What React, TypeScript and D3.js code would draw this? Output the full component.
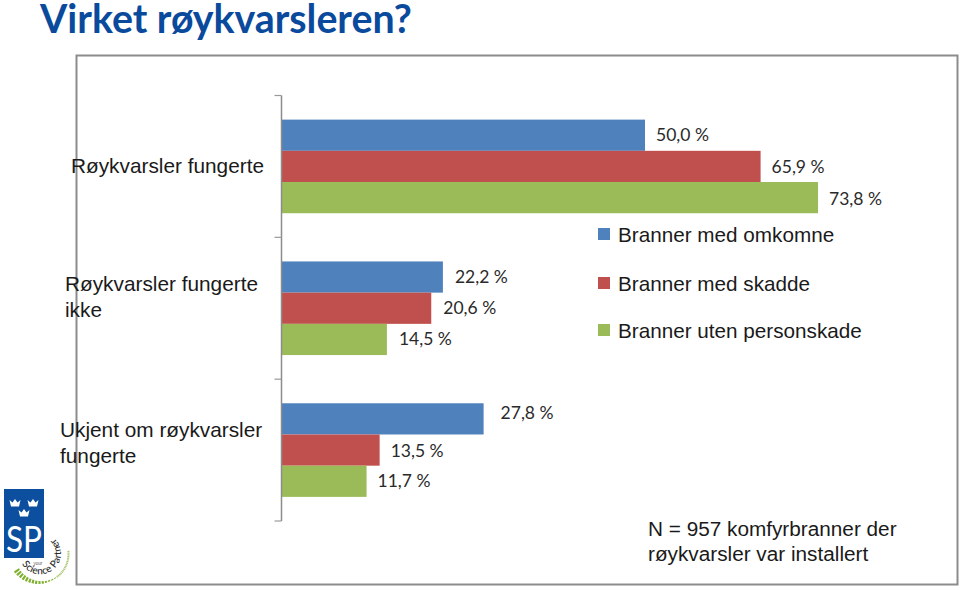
import React from "react";
import * as d3 from "d3";

const categories = ["Røykvarsler fungerte", "Røykvarsler fungerte ikke", "Ukjent om røykvarsler fungerte"];
const seriesNames = ["Branner med omkomne", "Branner med skadde", "Branner uten personskade"];
const omkomne = [50.0, 22.2, 27.8];
const skadde = [65.9, 20.6, 13.5];
const utenSkade = [73.8, 14.5, 11.7];
const seriesValues = [omkomne, skadde, utenSkade];
const colors = ["#4f81bd", "#c0504d", "#9bbb59"];
const categoryLines = [["Røykvarsler fungerte"], ["Røykvarsler fungerte", "ikke"], ["Ukjent om røykvarsler", "fungerte"]];
const noteLines = ["N = 957 komfyrbranner der", "røykvarsler var installert"];

const W = 960, H = 590;
const x = d3.scaleLinear().domain([0, 100]).range([281.5, 1008.5]);
const y0 = d3.scaleBand<number>().domain([0, 1, 2]).range([95.5, 521]).paddingInner(0.34).paddingOuter(0.17);
const y1 = d3.scaleBand<number>().domain([0, 1, 2]).range([0, y0.bandwidth()]);
const axisTicks = d3.range(4).map((i) => 95.5 + (i * (521 - 95.5)) / 3);

const sans = "'Liberation Sans', Arial, sans-serif";
const calibri = "Lato, 'Open Sans', sans-serif";

// label nudges relative to the bar end / bar centre, as in the hand-placed source labels
const labelDx = [[11, 12, 17], [11, 12, 11], [11, 12, 11]];
const labelDy = [[0, 0, -6], [0.5, 0, 0.5], [1, 0, 0]];

const catTextX = [71, 65, 60];
const catTextY = [173, 291, 437];
const legendY = [235, 284, 331];

const greenArc = d3.arc();

function Crown({ cx, cy, s }: { cx: number; cy: number; s: number }) {
  const p = d3.path();
  p.moveTo(cx - 5.5 * s, cy - 4 * s);
  p.lineTo(cx - 2.5 * s, cy - 1.5 * s);
  p.lineTo(cx, cy - 5 * s);
  p.lineTo(cx + 2.5 * s, cy - 1.5 * s);
  p.lineTo(cx + 5.5 * s, cy - 4 * s);
  p.lineTo(cx + 4 * s, cy + 2.5 * s);
  p.lineTo(cx - 4 * s, cy + 2.5 * s);
  p.closePath();
  return <path d={p.toString()} fill="#fff" />;
}

function Logo() {
  const rad = Math.PI / 180;
  const thick = d3.range(0, 14).map((i) => {
    const a0 = (236 - i * 6.6) * rad;
    return greenArc({ innerRadius: 25.5 + i * 0.2, outerRadius: 31.5 - i * 0.2, startAngle: a0 - 0.075, endAngle: a0 } as any) as string;
  });
  const fine = d3.range(0, 18).map((i) => {
    const a0 = (144 - i * 3.4) * rad;
    return greenArc({ innerRadius: 27.5, outerRadius: 29.5, startAngle: a0 - 0.04, endAngle: a0 } as any) as string;
  });
  return (
    <g>
      <rect x={4} y={489} width={40} height={69} fill="#0b4f9e" />
      <Crown cx={15} cy={504} s={1} />
      <Crown cx={33} cy={504} s={1} />
      <Crown cx={24} cy={514} s={1} />
      <text x={24} y={552} textAnchor="middle" fontFamily={calibri} fontSize={37} fill="#fff" textLength={36} lengthAdjust="spacingAndGlyphs">SP</text>
      <g transform="translate(40,554)">
        {thick.map((d, i) => <path key={i} d={d} fill="#7fb02f" />)}
        {fine.map((d, i) => <path key={i} d={d} fill="#a9c770" />)}
      </g>
      <defs>
        <path id="logoArc" d="M 22 564 A 21 21 0 0 0 61 555 A 21 21 0 0 0 50 535" />
      </defs>
      <text fontFamily={calibri} fontSize={10} fontWeight={500} fill="#2b2b2b" letterSpacing={0.2}>
        <textPath href="#logoArc" startOffset="0">Science Partner</textPath>
      </text>
      <text x={38} y={565} textAnchor="middle" fontFamily={sans} fontSize={4.5} fill="#555">your</text>
    </g>
  );
}

export default function App() {
  const axisPath = d3.path();
  axisPath.moveTo(x(0), axisTicks[0]);
  axisPath.lineTo(x(0), axisTicks[3]);
  return (
    <svg width={W} height={H} style={{ position: "absolute", left: 0, top: 0, background: "#fff" }}>
      <text x={40} y={33} fontFamily={calibri} fontWeight={700} fontSize={39.3} fill="#0a4a9c">Virket røykvarsleren?</text>
      <rect x={76.5} y={55.5} width={881} height={529} fill="#fff" stroke="#8c8c8c" strokeWidth={2} />

      {categories.map((c, ci) =>
        seriesValues.map((vals, si) => (
          <rect key={c + si} x={x(0)} y={(y0(ci) as number) + (y1(si) as number)} width={x(vals[ci]) - x(0)} height={y1.bandwidth()} fill={colors[si]} />
        ))
      )}

      <path d={axisPath.toString()} stroke="#8c8c8c" strokeWidth={1.5} fill="none" />
      {axisTicks.map((t) => <line key={t} x1={x(0) - 7} x2={x(0)} y1={t} y2={t} stroke="#9a9a9a" strokeWidth={1.2} />)}

      {categoryLines.map((lines, ci) => (
        <text key={ci} fontFamily={sans} fontSize={20.8} fill="#1a1a1a">
          {lines.map((l, i) => <tspan key={i} x={catTextX[ci]} y={catTextY[ci] + i * 25.5}>{l}</tspan>)}
        </text>
      ))}

      {categories.map((c, ci) =>
        seriesValues.map((vals, si) => (
          <text key={c + "l" + si}
            x={x(vals[ci]) + labelDx[si][ci]}
            y={(y0(ci) as number) + (y1(si) as number) + y1.bandwidth() / 2 + labelDy[si][ci] + 6}
            fontFamily={calibri} fontSize={17.5} fill="#2a2a2a">
            {`${d3.format(".1f")(vals[ci]).replace(".", ",")} %`}
          </text>
        ))
      )}

      {seriesNames.map((s, i) => (
        <g key={s}>
          <rect x={598} y={legendY[i] - 7} width={12} height={12} fill={colors[i]} />
          <text x={618} y={legendY[i] + 7} fontFamily={sans} fontSize={20.7} fill="#1a1a1a">{s}</text>
        </g>
      ))}

      <text fontFamily={sans} fontSize={20.75} fill="#1a1a1a">
        {noteLines.map((l, i) => <tspan key={i} x={648} y={536 + i * 25}>{l}</tspan>)}
      </text>
      <Logo />
    </svg>
  );
}
